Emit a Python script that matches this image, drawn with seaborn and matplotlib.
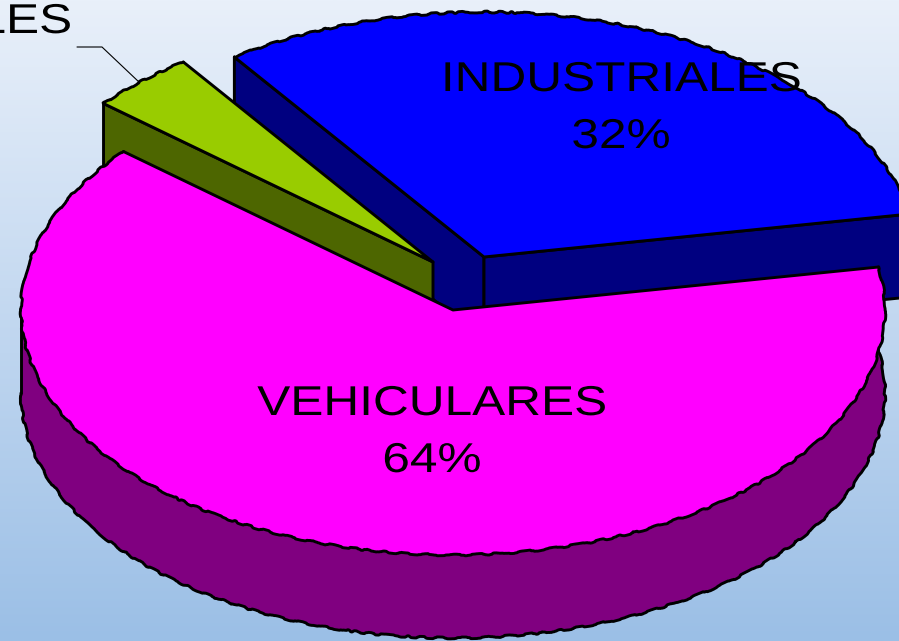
import numpy as np
import matplotlib
matplotlib.use("Agg")
import matplotlib.pyplot as plt
import matplotlib.patheffects as pe
from matplotlib.colors import LinearSegmentedColormap
from matplotlib.transforms import Affine2D
import seaborn as sns

categorias = ["VEHICULARES", "INDUSTRIALES", "LES"]
valores = [64, 32, 4]
cores_topo = ["#FF00FF", "#0000FF", "#99CC00"]
cores_lado = ["#800080", "#000080", "#4D6600"]

# geometria da pizza em pixels
RX, RY, PROF = 432, 245, 83
ANGULO_INICIAL = 139.7
centros = [(453, 310), (484, 257), (433, 262)]
LW = 2.1

sns.set_theme(style="white")
plt.rcParams["font.family"] = ["Liberation Sans", "DejaVu Sans"]


class Esticado(pe.AbstractPathEffect):
    # o texto original vem esticado na horizontal
    def __init__(self, sx, x0):
        super().__init__()
        self.sx = sx
        self.x0 = x0

    def draw_path(self, renderer, gc, tpath, affine, rgbFace=None):
        t = affine + Affine2D().translate(-self.x0, 0).scale(self.sx, 1).translate(self.x0, 0)
        renderer.draw_path(gc, tpath, t, rgbFace)


def ponto(centro, ang, desce=0):
    rad = np.radians(ang)
    return centro[0] + RX * np.cos(rad), centro[1] - RY * np.sin(rad) + desce


def arco(centro, a1, a2, desce=0):
    angs = np.linspace(a1, a2, 200)
    xs, ys = ponto(centro, angs, desce)
    return list(xs), list(ys)


def borda_torta(ax, xs, ys, z):
    # contorno serrilhado dos arcos
    linha, = ax.plot(xs, ys, color="black", linewidth=LW, solid_capstyle="round", zorder=z)
    linha.set_sketch_params(scale=0.9, length=45, randomness=10)


def parede_radial(ax, centro, ang, cor, z):
    x0, y0 = ponto(centro, ang)
    xs = [x0, centro[0], centro[0], x0]
    ys = [y0, centro[1], centro[1] + PROF, y0 + PROF]
    ax.fill(xs, ys, facecolor=cor, edgecolor="black", linewidth=LW, joinstyle="round", zorder=z)


def fatia(ax, centro, a1, a2, cor, z):
    xs, ys = arco(centro, a1, a2)
    ax.fill(xs + [centro[0]], ys + [centro[1]], facecolor=cor, edgecolor="none", zorder=z)
    ax.plot([xs[0], centro[0], xs[-1]], [ys[0], centro[1], ys[-1]], color="black", linewidth=LW,
            solid_joinstyle="round", zorder=z)
    borda_torta(ax, xs, ys, z)


def rotulo(ax, x, y, texto, ha="center"):
    ax.text(x, y, texto, ha=ha, va="center", fontsize=30, color="black", zorder=20,
            path_effects=[Esticado(1.19, x)])


fig = plt.figure(figsize=(8.99, 6.41), dpi=100)
ax = fig.add_axes([0, 0, 1, 1])
ax.set_xlim(0, 899)
ax.set_ylim(641, 0)
ax.axis("off")

fundo = LinearSegmentedColormap.from_list("fundo", ["#E9F0FA", "#9BBFE6"])
ax.imshow(np.linspace(0, 1, 256).reshape(-1, 1), cmap=fundo, extent=[0, 899, 641, 0], aspect="auto", zorder=0)

# angulos saem dos valores
varreduras = [v / sum(valores) * 360 for v in valores]
pink_ini = ANGULO_INICIAL
pink_fim = pink_ini + varreduras[0]
azul_ini = pink_fim - 360
azul_fim = azul_ini + varreduras[1]
verde_ini = azul_fim
verde_fim = verde_ini + varreduras[2]

# azul
parede_radial(ax, centros[1], azul_fim, cores_lado[1], 2)
parede_radial(ax, centros[1], azul_ini, cores_lado[1], 2)
fatia(ax, centros[1], azul_ini, azul_fim, cores_topo[1], 3)

# verde
parede_radial(ax, centros[2], verde_fim, cores_lado[2], 4)
fatia(ax, centros[2], verde_ini, verde_fim, cores_topo[2], 5)

# rosa
xs_t, ys_t = arco(centros[0], 180, pink_fim)
xs_b, ys_b = arco(centros[0], 180, pink_fim, PROF)
ax.fill(xs_t + xs_b[::-1], ys_t + ys_b[::-1], facecolor=cores_lado[0], edgecolor="none", zorder=6)
borda_torta(ax, xs_b, ys_b, 6)
ax.plot([xs_t[0], xs_b[0]], [ys_t[0], ys_b[0]], color="black", linewidth=LW, zorder=6)
ax.plot([xs_t[-1], xs_b[-1]], [ys_t[-1], ys_b[-1]], color="black", linewidth=LW, zorder=6)
fatia(ax, centros[0], pink_ini, pink_fim, cores_topo[0], 7)

ax.plot([77, 102, 140], [47, 47, 83], color="black", linewidth=0.8, zorder=1)

rotulo(ax, 432, 404, categorias[0])
rotulo(ax, 432, 461, f"{valores[0]}%")
rotulo(ax, 621, 80, categorias[1])
rotulo(ax, 621, 137, f"{valores[1]}%")
rotulo(ax, 72, 22, categorias[2], ha="right")

fig.savefig("out.png", dpi=100)
